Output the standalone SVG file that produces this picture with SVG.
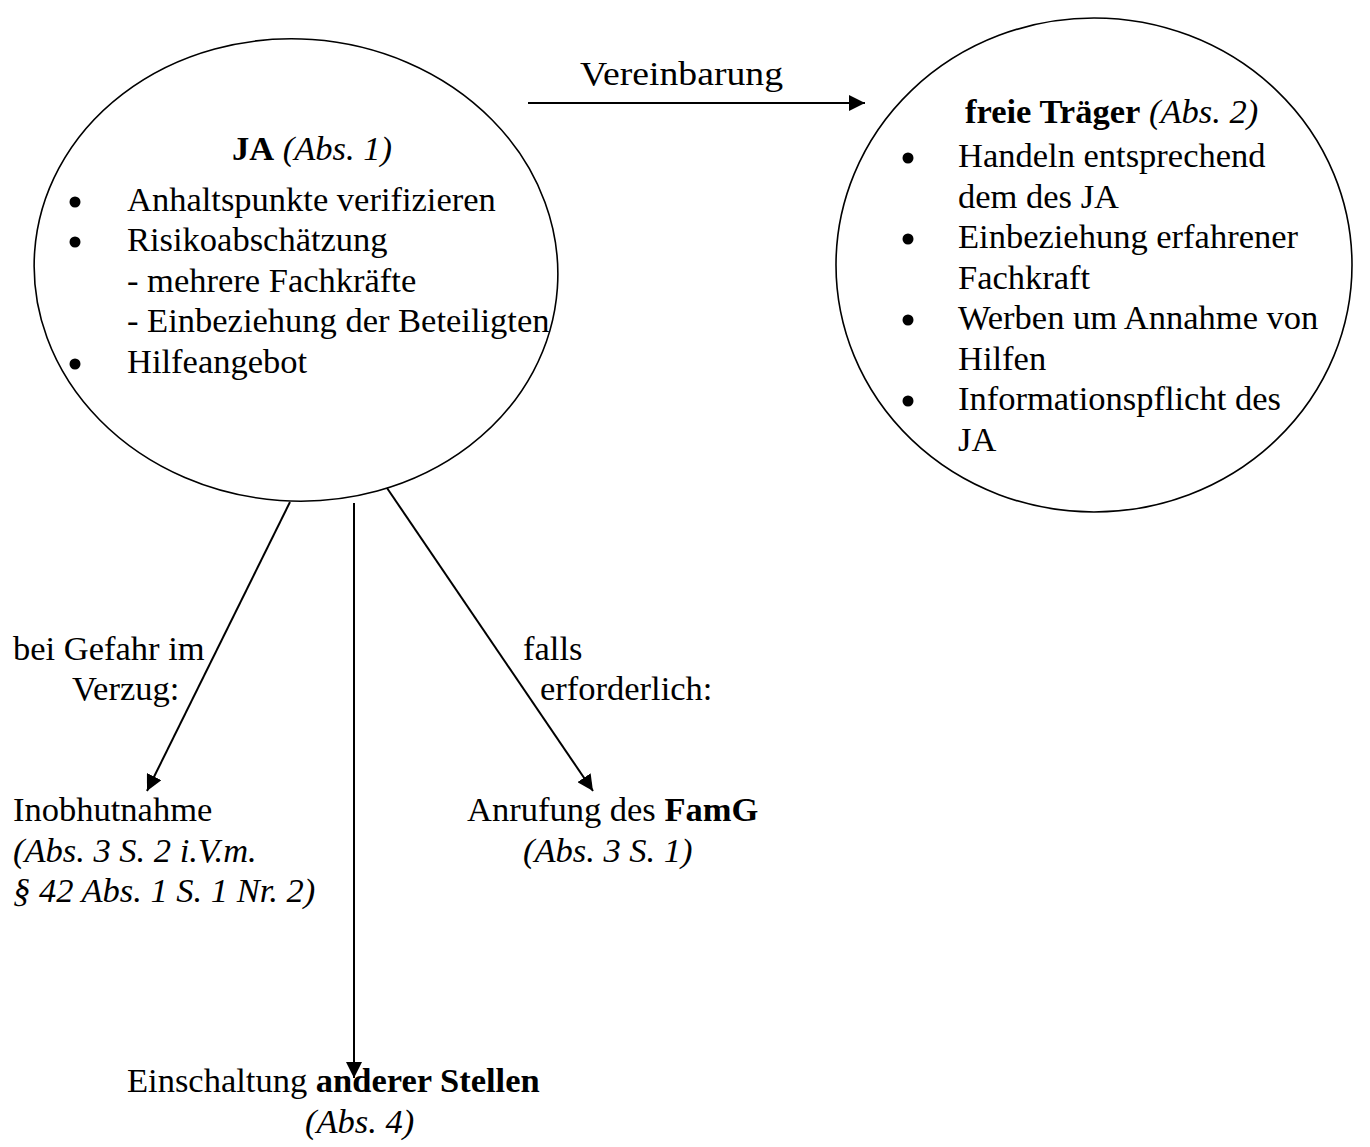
<svg xmlns="http://www.w3.org/2000/svg" width="1370" height="1147" viewBox="0 0 1370 1147">
<defs>
<marker id="arr" markerUnits="userSpaceOnUse" markerWidth="16" markerHeight="16" refX="16" refY="8" orient="auto" viewBox="0 0 16 16">
<path d="M0,0 L16,8 L0,16 z" fill="#000"/>
</marker>
<style>
text{font-family:"Liberation Serif","Times New Roman",serif;font-size:34.5px;fill:#000}
.b{font-weight:bold}
.i{font-style:italic}
.node{fill:#fff;stroke:#000;stroke-width:1.6}
.c{stroke:#000;stroke-width:2;fill:none;marker-end:url(#arr)}
</style>
</defs>
<rect width="1370" height="1147" fill="#fff"/>
<g id="node-ja">
<ellipse class="node" cx="296" cy="270" rx="262" ry="231" transform="rotate(4 296 270)"/>
<text x="232" y="160"><tspan class="b">JA</tspan> <tspan class="i">(Abs. 1)</tspan></text>
<circle cx="75" cy="202" r="5.5"/>
<circle cx="75" cy="242" r="5.5"/>
<circle cx="75" cy="364" r="5.5"/>
<text x="127" y="211">Anhaltspunkte verifizieren</text>
<text x="127" y="251">Risikoabschätzung</text>
<text x="127" y="292">- mehrere Fachkräfte</text>
<text x="127" y="332">- Einbeziehung der Beteiligten</text>
<text x="127" y="373">Hilfeangebot</text>
</g>
<g id="node-traeger">
<ellipse class="node" cx="1094" cy="265" rx="258" ry="247"/>
<text x="965" y="123"><tspan class="b">freie Träger</tspan> <tspan class="i">(Abs. 2)</tspan></text>
<circle cx="908" cy="158" r="5.5"/>
<circle cx="908" cy="239" r="5.5"/>
<circle cx="908" cy="320" r="5.5"/>
<circle cx="908" cy="401" r="5.5"/>
<text x="958" y="167">Handeln entsprechend</text>
<text x="958" y="207.5">dem des JA</text>
<text x="958" y="248">Einbeziehung erfahrener</text>
<text x="958" y="288.5">Fachkraft</text>
<text x="958" y="329">Werben um Annahme von</text>
<text x="958" y="369.5">Hilfen</text>
<text x="958" y="410">Informationspflicht des</text>
<text x="958" y="450.5">JA</text>
</g>
<g id="node-inobhut">
<text x="13" y="821">Inobhutnahme</text>
<text x="13" y="862" class="i">(Abs. 3 S. 2 i.V.m.</text>
<text x="13" y="902" class="i">§ 42 Abs. 1 S. 1 Nr. 2)</text>
</g>
<g id="node-famg">
<text x="467" y="821">Anrufung des <tspan class="b">FamG</tspan></text>
<text x="523" y="862" class="i">(Abs. 3 S. 1)</text>
</g>
<g id="node-stellen">
<text x="127" y="1092">Einschaltung <tspan class="b">anderer Stellen</tspan></text>
<text x="305" y="1133" class="i">(Abs. 4)</text>
</g>
<g id="connectors">
<line class="c" x1="290" y1="502" x2="147" y2="791"/>
<line class="c" x1="354" y1="503" x2="354" y2="1078"/>
<line class="c" x1="387" y1="488" x2="593" y2="791"/>
<line class="c" x1="528" y1="103" x2="865" y2="103"/>
<text x="580" y="85" textLength="203" lengthAdjust="spacingAndGlyphs">Vereinbarung</text>
<text x="13" y="660">bei Gefahr im</text>
<text x="72" y="700">Verzug:</text>
<text x="523" y="660">falls</text>
<text x="540" y="700">erforderlich:</text>
</g>
</svg>
